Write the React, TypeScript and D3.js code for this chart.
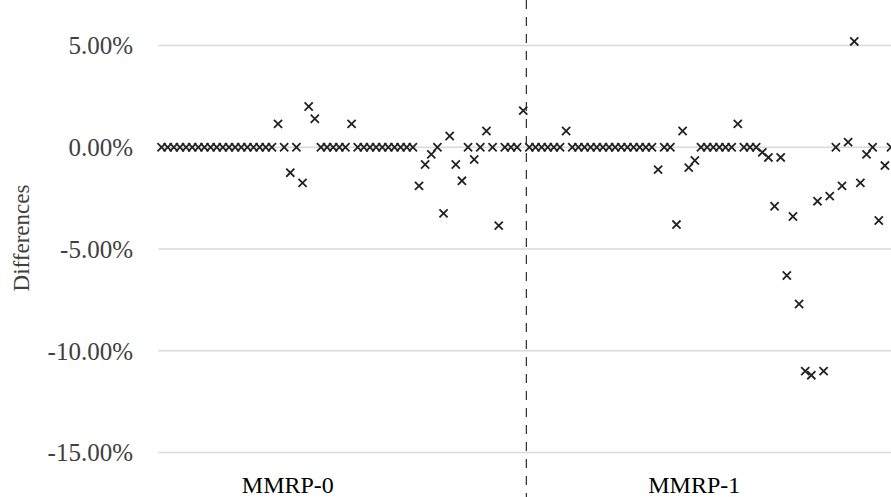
import React, { useEffect, useRef } from 'react';
import * as d3 from 'd3';

// differences (%) per run, one value per category slot
const categories = ['MMRP-0', 'MMRP-1'];

const mmrp0Diffs = [
  0, 0, 0, 0, 0, 0, 0, 0, 0, 0, 0, 0, 0, 0, 0, 0, 0, 0, 0,
  1.15, 0, -1.25, 0, -1.75, 2.0, 1.4,
  0, 0, 0, 0, 0,
  1.15,
  0, 0, 0, 0, 0, 0, 0, 0, 0, 0,
  -1.9, -0.85, -0.35, 0, -3.25, 0.55, -0.85, -1.65, 0, -0.6, 0, 0.8, 0, -3.85, 0, 0, 0, 1.8,
];

const mmrp1Diffs = [
  0, 0, 0, 0, 0, 0,
  0.8,
  0, 0, 0, 0, 0, 0, 0, 0, 0, 0, 0, 0, 0, 0,
  -1.1, 0, 0, -3.8, 0.8, -1.0, -0.65,
  0, 0, 0, 0, 0, 0,
  1.15, 0, 0, 0,
  -0.25, -0.5, -2.9, -0.5, -6.3, -3.4, -7.7, -11.0, -11.2, -2.65, -11.0, -2.4, 0, -1.9, 0.25, 5.2,
  -1.75, -0.35, 0, -3.6, -0.9, 0,
];

const yTicks = [5, 0, -5, -10, -15];
// where the group labels sit, in slot units
const labelSlots = [20.6, 86.9];

const W = 891;
const H = 497;
const FONT = '"Liberation Serif", "Times New Roman", serif';

export default function App() {
  const svgRef = useRef<SVGSVGElement>(null);

  useEffect(() => {
    const svg = d3.select(svgRef.current);
    svg.selectAll('*').remove();

    const all = [...mmrp0Diffs, ...mmrp1Diffs];
    const n = all.length;

    const left = 158.5;
    const step = 6.13;
    const x = d3.scaleLinear()
      .domain([-0.5, n - 0.5])
      .range([left, left + n * step]);

    const y = d3.scaleLinear()
      .domain([-15, 5])
      .range([452.5, 45.5]);

    // gridlines
    svg.append('g')
      .selectAll('line')
      .data(yTicks)
      .join('line')
      .attr('x1', left)
      .attr('x2', W)
      .attr('y1', d => y(d))
      .attr('y2', d => y(d))
      .attr('stroke', '#d9d9d9')
      .attr('stroke-width', 1.5);

    // tick labels
    svg.append('g')
      .selectAll('text')
      .data(yTicks)
      .join('text')
      .attr('x', 133)
      .attr('y', d => y(d))
      .attr('dy', '0.35em')
      .attr('text-anchor', 'end')
      .style('font-family', FONT)
      .style('font-size', '25px')
      .style('fill', '#404040')
      .text(d => d.toFixed(2) + '%');

    // axis title
    svg.append('text')
      .attr('transform', `translate(21, 238) rotate(-90)`)
      .attr('text-anchor', 'middle')
      .attr('dy', '0.35em')
      .style('font-family', FONT)
      .style('font-size', '23px')
      .style('fill', '#404040')
      .text('Differences');

    // separator between the two groups
    const sepX = x(mmrp0Diffs.length - 0.5);
    svg.append('line')
      .attr('x1', sepX)
      .attr('x2', sepX)
      .attr('y1', 0)
      .attr('y2', H)
      .attr('stroke', '#000')
      .attr('stroke-width', 1)
      .attr('stroke-dasharray', '9,8');

    // points
    const sym = d3.symbol().type(d3.symbolX).size(45);
    svg.append('g')
      .selectAll('path')
      .data(all)
      .join('path')
      .attr('d', sym)
      .attr('transform', (d, i) => `translate(${x(i)}, ${y(d)})`)
      .attr('fill', 'none')
      .attr('stroke', '#222')
      .attr('stroke-width', 1.8);

    // group labels
    svg.append('g')
      .selectAll('text')
      .data(categories)
      .join('text')
      .attr('x', (d, i) => x(labelSlots[i]))
      .attr('y', 493)
      .attr('text-anchor', 'middle')
      .style('font-family', FONT)
      .style('font-size', '24px')
      .style('fill', '#000')
      .text(d => d);
  }, []);

  return (
    <svg
      ref={svgRef}
      width={W}
      height={H}
      style={{ position: 'absolute', left: 0, top: 0, background: '#fff' }}
    />
  );
}
